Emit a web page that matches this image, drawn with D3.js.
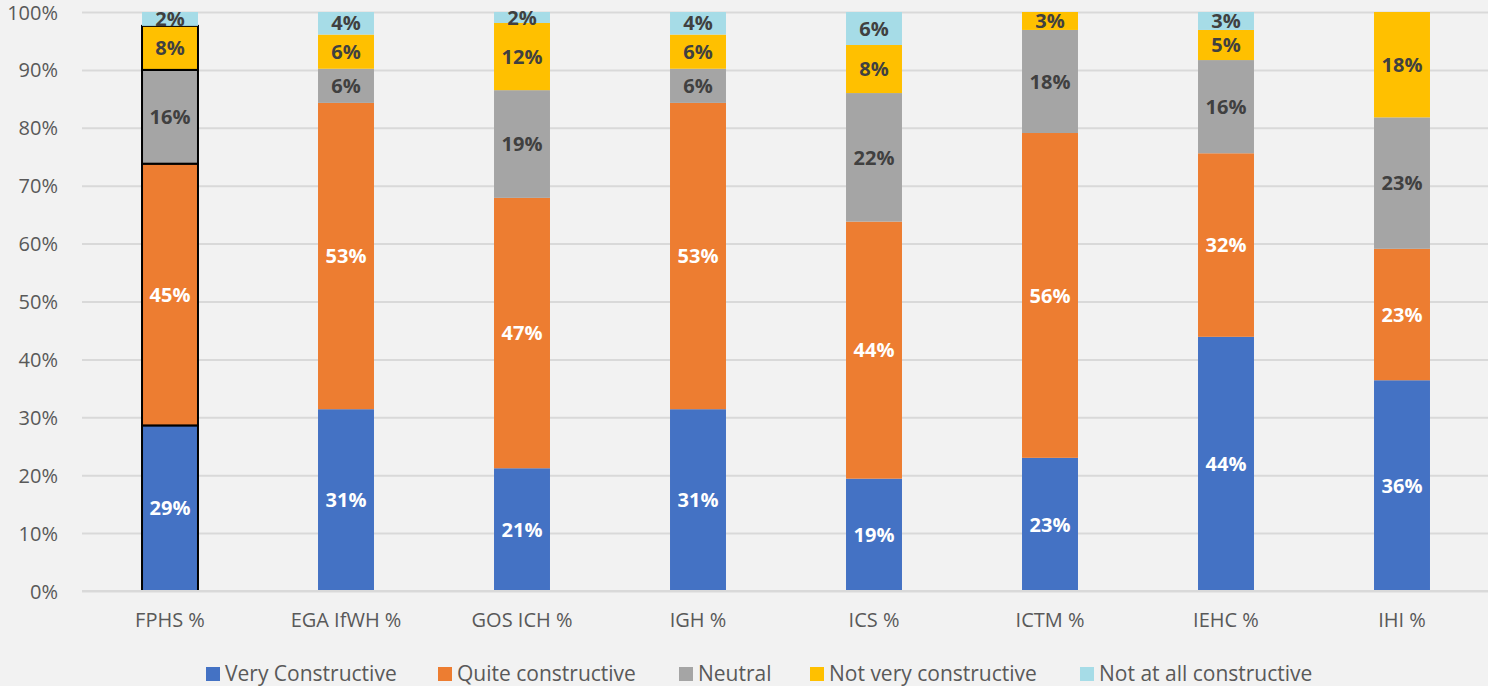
<!DOCTYPE html>
<html>
<head>
<meta charset="utf-8">
<title>Constructiveness by group</title>
<script src="https://cdn.jsdelivr.net/npm/d3@7"></script>
<style>
body { margin: 0; background: #F2F2F2; }
svg { display: block; }
.tick text { fill: #595959; font-family: "Open Sans", "Noto Sans", sans-serif; font-size: 20px; }
.grid line { stroke: #D9D9D9; stroke-width: 2px; }
.grid path { display: none; }
.lbl { font-family: "Open Sans", "Noto Sans", sans-serif; font-size: 20px; font-weight: bold; }
.legend text { fill: #595959; font-family: "Open Sans", "Noto Sans", sans-serif; font-size: 21px; }
</style>
</head>
<body>
<svg width="1488" height="686"></svg>
<script>
// values, in percent
var categories = ["FPHS %", "EGA IfWH %", "GOS ICH %", "IGH %", "ICS %", "ICTM %", "IEHC %", "IHI %"];
var seriesNames = ["Very Constructive", "Quite constructive", "Neutral", "Not very constructive", "Not at all constructive"];
var veryConstructive  = [28.6, 31.4, 21.2, 31.4, 19.4, 23.0, 43.9, 36.4];
var quiteConstructive = [45.2, 52.9, 46.7, 52.9, 44.4, 56.1, 31.7, 22.7];
var neutral           = [16.2, 5.9, 18.6, 5.9, 22.2, 17.8, 16.1, 22.7];
var notVery           = [7.6, 5.9, 11.6, 5.9, 8.3, 3.1, 5.2, 18.2];
var notAtAll          = [2.4, 3.9, 1.9, 3.9, 5.7, 0, 3.1, 0];
var yTicks = [0, 10, 20, 30, 40, 50, 60, 70, 80, 90, 100];

var colors = ["#4472C4", "#ED7D31", "#A5A5A5", "#FFC000", "#A6DCE7"];
var labelColors = ["#FFFFFF", "#FFFFFF", "#404040", "#404040", "#404040"];
var allSeries = [veryConstructive, quiteConstructive, neutral, notVery, notAtAll];

var svg = d3.select("svg");
var margin = {top: 12, left: 82, right: 1490, bottom: 591};

var x = d3.scaleBand().domain(categories).range([margin.left, margin.right])
    .paddingInner(0.682).paddingOuter(0.341);
var y = d3.scaleLinear().domain([0, 100]).range([margin.bottom, margin.top]);

// gridlines
svg.append("g")
    .attr("class", "grid")
    .attr("transform", "translate(" + margin.left + ",0)")
    .call(d3.axisLeft(y).tickValues(yTicks).tickSize(-(margin.right - margin.left)).tickFormat(""));

// y tick labels
svg.append("g")
    .attr("transform", "translate(61,0)")
    .call(d3.axisLeft(y).tickValues(yTicks).tickSize(0).tickFormat(function(d) { return d + "%"; }))
    .call(function(g) { g.select(".domain").remove(); })
    .selectAll("text").attr("dy", "0.35em");

// x tick labels
svg.append("g")
    .attr("transform", "translate(0," + margin.bottom + ")")
    .call(d3.axisBottom(x).tickSize(0).tickPadding(22))
    .call(function(g) { g.select(".domain").remove(); });

// stack
var rows = categories.map(function(c, i) {
  var r = {cat: c};
  seriesNames.forEach(function(s, k) { r[s] = allSeries[k][i]; });
  return r;
});
var stacked = d3.stack().keys(seriesNames)(rows);

stacked.forEach(function(layer, k) {
  var g = svg.append("g");
  layer.forEach(function(d, i) {
    var v = d[1] - d[0];
    if (v <= 0) return;
    var outline = (i === 0 && k < 4);
    g.append("rect")
      .attr("x", x(d.data.cat))
      .attr("y", y(Math.min(d[1], 100)))
      .attr("width", x.bandwidth())
      .attr("height", y(d[0]) - y(Math.min(d[1], 100)))
      .attr("fill", colors[k])
      .attr("stroke", outline ? "#000" : "none")
      .attr("stroke-width", outline ? 2 : 0);
    g.append("text")
      .attr("class", "lbl")
      .attr("x", x(d.data.cat) + x.bandwidth() / 2)
      .attr("y", (y(d[0]) + y(Math.min(d[1], 100))) / 2)
      .attr("dy", "0.36em")
      .attr("text-anchor", "middle")
      .attr("fill", labelColors[k])
      .text(Math.round(v) + "%");
  });
});

// baseline
svg.append("line")
    .attr("x1", margin.left).attr("x2", margin.right)
    .attr("y1", margin.bottom).attr("y2", margin.bottom)
    .attr("stroke", "#D9D9D9").attr("stroke-width", 2);

// legend
var legendX = [206, 438, 679, 810, 1080];
var legend = svg.append("g").attr("class", "legend");
seriesNames.forEach(function(s, k) {
  legend.append("rect")
    .attr("x", legendX[k]).attr("y", 667)
    .attr("width", 14).attr("height", 14)
    .attr("fill", colors[k]);
  legend.append("text")
    .attr("x", legendX[k] + 19).attr("y", 681)
    .text(s);
});
</script>
</body>
</html>
